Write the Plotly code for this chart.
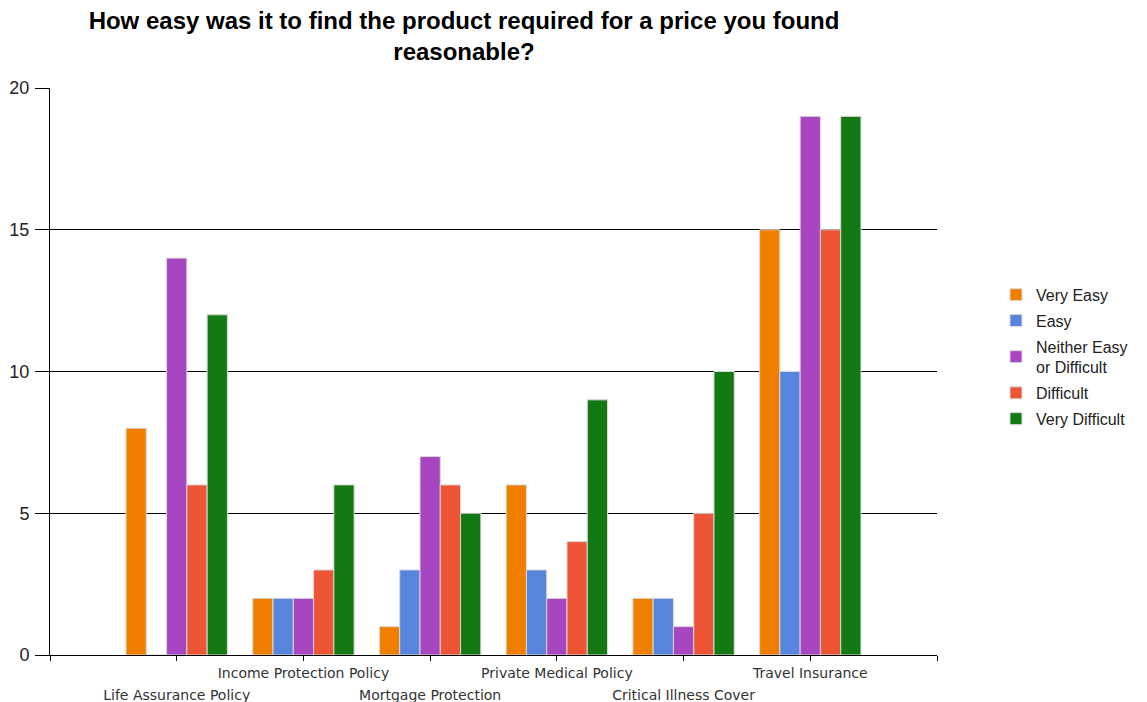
import plotly.graph_objects as go

# Survey responses per product
products = [
    "Life Assurance Policy",
    "Income Protection Policy",
    "Mortgage Protection",
    "Private Medical Policy",
    "Critical Illness Cover",
    "Travel Insurance",
]
very_easy = [8, 2, 1, 6, 2, 15]
easy = [0, 2, 3, 3, 2, 10]
neither = [14, 2, 7, 2, 1, 19]
difficult = [6, 3, 6, 4, 5, 15]
very_difficult = [12, 6, 5, 9, 10, 19]

series = [
    ("Very Easy", very_easy, "#F07F00"),
    ("Easy", easy, "#5784DC"),
    ("Neither Easy<br>or Difficult", neither, "#A845C0"),
    ("Difficult", difficult, "#EE5535"),
    ("Very Difficult", very_difficult, "#137A13"),
]

y_ticks = [0, 5, 10, 15, 20]

idx = list(range(len(products)))

fig = go.Figure()
for name, vals, color in series:
    fig.add_trace(go.Bar(
        x=idx, y=vals, name=name, legendgroup=name,
        marker=dict(color=color, line=dict(color="#D9D9D9", width=1)),
    ))

# Staggered category labels: odd categories on the first row, even on the second
row1 = [p if i % 2 == 1 else "" for i, p in enumerate(products)]
row2 = [p if i % 2 == 0 else "" for i, p in enumerate(products)]
edge_ticks = [-1] + idx + [len(products)]

label_font = dict(family="DejaVu Sans", size=14, color="#333")

fig.update_layout(
    width=1147, height=702,
    margin=dict(l=50, r=210, t=88, b=47, autoexpand=False),
    paper_bgcolor="white", plot_bgcolor="white",
    barmode="group", bargap=0.2, bargroupgap=0,
    title=dict(
        text="How easy was it to find the product required for a price you found<br>reasonable?",
        x=464 / 1147, xanchor="center", y=1 - 29 / 702, yanchor="middle",
        font=dict(family="Liberation Sans, Arial", size=24, color="black", weight="bold"),
    ),
    font=dict(family="Liberation Sans, Arial", size=16, color="#222"),
    legend=dict(
        x=1.0665, xanchor="left", y=0.526, yanchor="middle",
        font=dict(family="Liberation Sans, Arial", size=16, color="#222"),
        bgcolor="rgba(0,0,0,0)", tracegroupgap=2, traceorder="grouped",
    ),
    xaxis=dict(
        range=[-1, len(products)], automargin=False,
        tickmode="array", tickvals=edge_ticks, ticktext=[""] + row1 + [""],
        ticks="outside", ticklen=5, tickcolor="black", tickwidth=1,
        showline=True, linecolor="black", linewidth=1,
        showgrid=False, zeroline=False,
        ticklabelstandoff=0,
        tickfont=label_font,
    ),
    xaxis2=dict(
        overlaying="x", anchor="y", side="bottom",
        range=[-1, len(products)], automargin=False,
        tickmode="array", tickvals=idx, ticktext=row2,
        ticks="", showline=False, showgrid=False, zeroline=False,
        ticklabelstandoff=30,
        tickfont=label_font,
    ),
    yaxis=dict(
        range=[0, 20], tickvals=y_ticks, automargin=False,
        ticks="outside", ticklen=14, tickcolor="black",
        showline=True, linecolor="black", linewidth=1,
        showgrid=True, gridcolor="black", gridwidth=1, zeroline=False,
        ticklabelstandoff=2,
        tickfont=dict(family="Liberation Sans, Arial", size=18, color="#222"),
    ),
)

# Invisible trace to attach the second row of labels
fig.add_trace(go.Scatter(x=[None], y=[None], xaxis="x2", showlegend=False, hoverinfo="skip"))

fig.write_html("out.html")
